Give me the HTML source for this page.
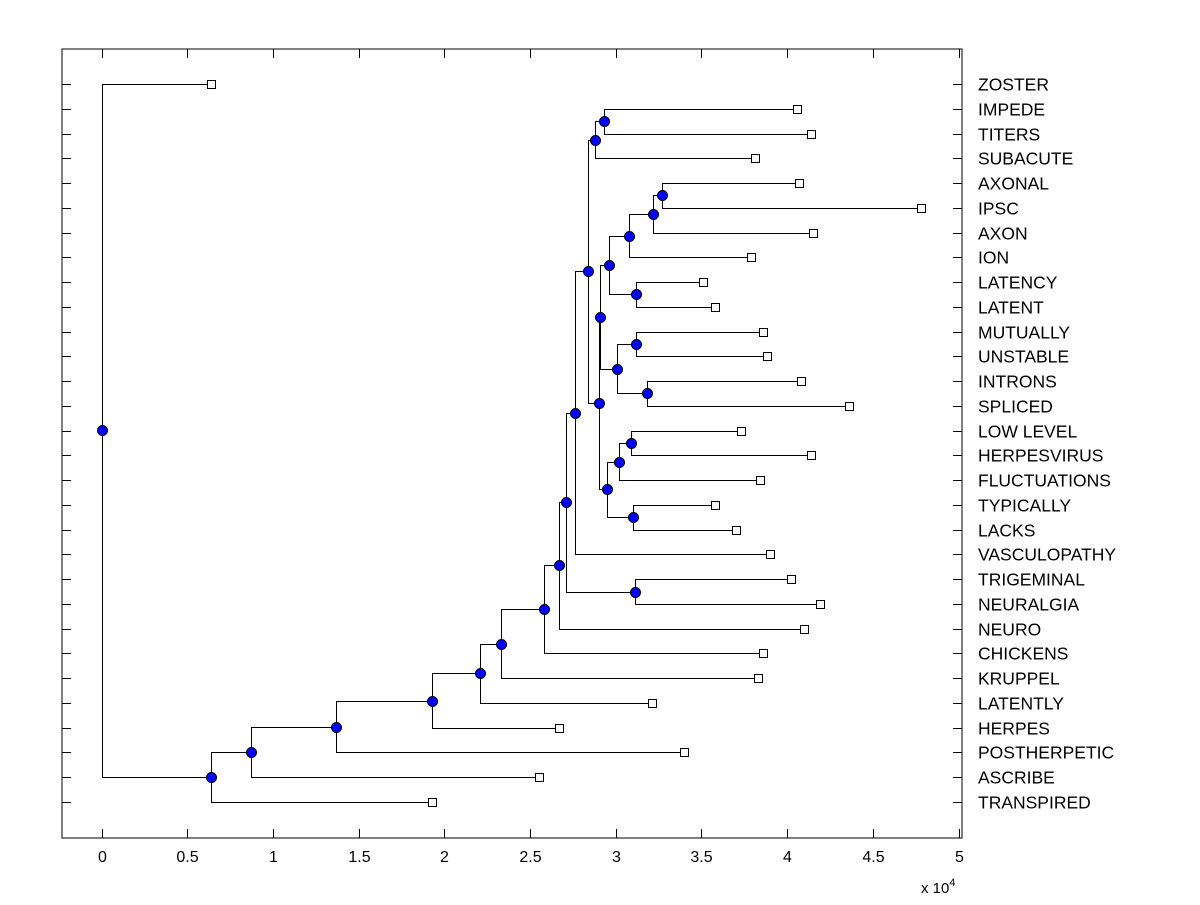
<!DOCTYPE html>
<html><head><meta charset="utf-8"><style>
body{margin:0;background:#fff;}
svg text{font-family:"Liberation Sans",Arial,sans-serif;fill:#000;}
</style></head><body>
<svg id="chart" width="1200" height="900" xmlns="http://www.w3.org/2000/svg"></svg>
<script>
const labels=["ZOSTER","IMPEDE","TITERS","SUBACUTE","AXONAL","IPSC","AXON","ION","LATENCY","LATENT","MUTUALLY","UNSTABLE","INTRONS","SPLICED","LOW LEVEL","HERPESVIRUS","FLUCTUATIONS","TYPICALLY","LACKS","VASCULOPATHY","TRIGEMINAL","NEURALGIA","NEURO","CHICKENS","KRUPPEL","LATENTLY","HERPES","POSTHERPETIC","ASCRIBE","TRANSPIRED"];
const leafValues=[0.64,4.06,4.14,3.81,4.07,4.78,4.15,3.79,3.51,3.58,3.86,3.88,4.08,4.36,3.73,4.14,3.84,3.58,3.70,3.90,4.02,4.19,4.10,3.86,3.83,3.21,2.67,3.40,2.55,1.93];
const mergeLeft=[1,30,4,32,33,8,34,10,12,37,36,14,41,17,42,40,31,46,20,47,49,50,51,52,53,54,55,56,0];
const mergeRight=[2,3,5,6,7,9,35,11,13,38,39,15,16,18,43,44,45,19,21,48,22,23,24,25,26,27,28,29,57];
const mergeHeights=[2.93,2.88,3.27,3.22,3.08,3.12,2.96,3.12,3.18,3.01,2.91,3.09,3.02,3.10,2.95,2.90,2.84,2.76,3.11,2.71,2.67,2.58,2.33,2.21,1.93,1.37,0.87,0.64,0];
const xTicks=[0,0.5,1,1.5,2,2.5,3,3.5,4,4.5,5];
const xTickLabels=["0","0.5","1","1.5","2","2.5","3","3.5","4","4.5","5"];

const svg=document.getElementById('chart');
const NS="http://www.w3.org/2000/svg";
const L=62,R=962,T=49,B=838;
const X0=101.5,PX=171.4;
const sx=v=>X0+v*PX;
const sy=i=>84+i*(802-84)/29;
function mk(tag,at,parent){const e=document.createElementNS(NS,tag);for(const k in at)e.setAttribute(k,at[k]);(parent||svg).appendChild(e);return e;}

const frame=mk('rect',{x:L,y:T,width:R-L,height:B-T,fill:'none',stroke:'#000','stroke-width':1});



xTicks.forEach((v,i)=>{
  const x=Math.round(sx(v))+0.5;
  const t=mk('line',{x1:x,x2:x,y1:B,y2:B-9,stroke:'#000'});
  
  
  const t2=mk('line',{x1:x,x2:x,y1:T,y2:T+9,stroke:'#000'});
  
  
  const tx=mk('text',{x:x,y:862,'font-size':16,'text-anchor':'middle'});
  tx.textContent=xTickLabels[i];
  
  
});
const exp=mk('text',{x:921,y:893,'font-size':15});
exp.innerHTML='x 10<tspan dy="-7" font-size="11">4</tspan>';



labels.forEach((lab,i)=>{
  const y=Math.round(sy(i))+0.5;
  const a=mk('line',{x1:L,x2:L+9,y1:y,y2:y,stroke:'#000'});
  
  
  const b=mk('line',{x1:R-9,x2:R,y1:y,y2:y,stroke:'#000'});
  
  
  const t=mk('text',{x:978,y:y+6,'font-size':17.5});
  t.textContent=lab;
  
  
});

const nx=leafValues.slice(), ny=labels.map((_,i)=>sy(i));
mergeLeft.forEach((a,k)=>{const b=mergeRight[k];nx.push(mergeHeights[k]);ny.push((ny[a]+ny[b])/2);});
const g=mk('g',{});


mergeLeft.forEach((a,k)=>{
  const b=mergeRight[k],id=30+k,x=Math.round(sx(nx[id]))+0.5;
  const d=`M${Math.round(sx(nx[a]))+0.5},${Math.round(ny[a])+0.5}H${x}V${Math.round(ny[b])+0.5}H${Math.round(sx(nx[b]))+0.5}`;
  const p=mk('path',{d:d,fill:'none',stroke:'#000','stroke-width':1},g);
  
  
});
labels.forEach((_,i)=>{
  const r=mk('rect',{x:Math.round(sx(nx[i]))-3.5,y:Math.round(ny[i])-3.5,width:8,height:8,fill:'#fff',stroke:'#000'});
  
  
});
mergeLeft.forEach((_,k)=>{
  const id=30+k;
  const c=mk('circle',{cx:Math.round(sx(nx[id]))+0.5,cy:Math.round(ny[id])+0.5,r:5,fill:'#0000ff',stroke:'#000','stroke-width':1});
  
  
});
</script>
</body></html>
